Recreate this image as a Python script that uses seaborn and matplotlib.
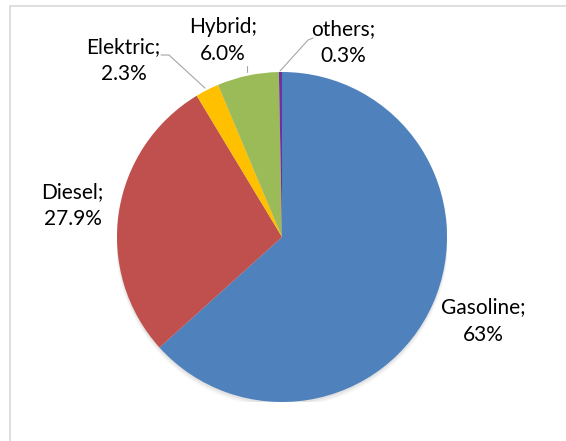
import matplotlib
matplotlib.use("Agg")
import matplotlib.pyplot as plt
from matplotlib.lines import Line2D
from matplotlib.patches import Circle
import seaborn as sns

# --- data ---
categories = ["Gasoline", "Diesel", "Elektric", "Hybrid", "others"]
shares = [63.0, 27.9, 2.3, 6.0, 0.3]
share_labels = ["63%", "27.9%", "2.3%", "6.0%", "0.3%"]
colors = ["#4F81BD", "#C0504D", "#FFC000", "#9BBB59", "#7030A0"]

# --- layout (data coords, pie radius = 1) ---
label_pos = [(1.22, -0.51), (-1.27, 0.19), (-0.96, 1.07), (-0.36, 1.19), (0.37, 1.18)]
leaders = {
    "Elektric": [(-0.733, 1.103), (-0.685, 1.103), (-0.467, 0.903)],
    "Hybrid": [(-0.212, 1.035), (-0.212, 1.0)],
    "others": [(0.188, 1.206), (0.158, 1.194), (-0.012, 1.006)],
}

sns.set_theme(style="white")
plt.rcParams["font.family"] = ["Lato", "DejaVu Sans"]

W, H = 566, 441
fig = plt.figure(figsize=(W / 100, H / 100), dpi=100)
fig.patch.set_facecolor("white")

cx, cy, r = 282, 237, 165
ax = fig.add_axes([(cx - r) / W, (H - cy - r) / H, 2 * r / W, 2 * r / H])
ax.set_xlim(-1, 1)
ax.set_ylim(-1, 1)
ax.set_aspect("equal")
ax.axis("off")

# soft shadow under the pie
for k, a in enumerate([0.10, 0.08, 0.06]):
    ax.add_patch(Circle((0, -0.012 - 0.006 * k), 1.0 + 0.004 * k,
                        color="#808080", alpha=a, lw=0, zorder=0))

ax.pie(shares, colors=colors, startangle=90, counterclock=False, radius=1,
       wedgeprops=dict(linewidth=0), frame=False)
ax.set_xlim(-1, 1)
ax.set_ylim(-1, 1)

for name, pct, (x, y) in zip(categories, share_labels, label_pos):
    ax.text(x, y, f"{name};\n{pct}", ha="center", va="center", fontsize=15,
            color="#000000", linespacing=1.45, clip_on=False)

for pts in leaders.values():
    xs, ys = zip(*pts)
    ax.add_line(Line2D(xs, ys, color="#A6A6A6", lw=0.8, clip_on=False))

# chart area border (top and left edge visible)
fig.add_artist(Line2D([10 / W, 1], [1 - 6 / H, 1 - 6 / H], transform=fig.transFigure,
                      color="#D9D9D9", lw=1.2))
fig.add_artist(Line2D([10 / W, 10 / W], [0, 1 - 6 / H], transform=fig.transFigure,
                      color="#D9D9D9", lw=1.2))

fig.savefig("out.png", dpi=100)
